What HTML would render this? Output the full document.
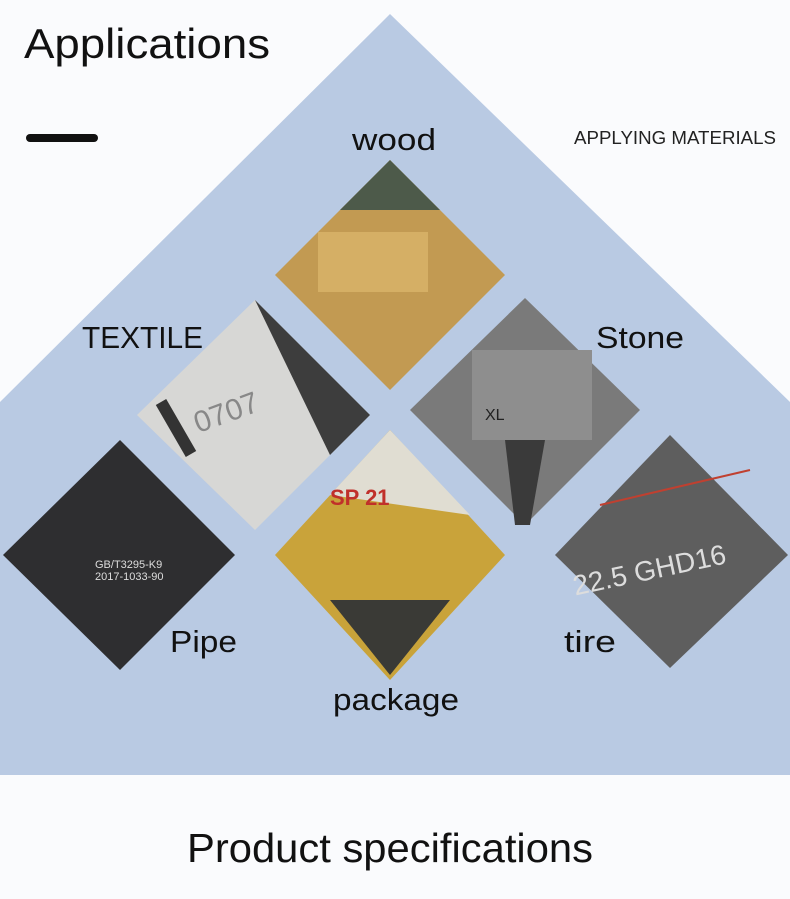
<!DOCTYPE html>
<html><head><meta charset="utf-8"><style>
html,body{margin:0;padding:0;background:#fafbfd;}
svg{display:block}
text{font-family:"Liberation Sans",sans-serif;}
</style></head><body>
<svg width="790" height="899" viewBox="0 0 790 899" xmlns="http://www.w3.org/2000/svg">
<rect width="790" height="899" fill="#fafbfd"/>
<polygon points="390,14 790,402 790,775 0,775 0,402" fill="#b9cae3"/>
<text x="24" y="58" font-size="42" fill="#111" textLength="246" lengthAdjust="spacingAndGlyphs">Applications</text>
<rect x="26" y="134" width="72" height="8" rx="4" fill="#111"/>
<text x="574" y="144" font-size="18" fill="#222" textLength="202" lengthAdjust="spacingAndGlyphs">APPLYING MATERIALS</text>
<text x="352" y="150" font-size="31" fill="#111" textLength="84" lengthAdjust="spacingAndGlyphs">wood</text>
<text x="82" y="348" font-size="31" fill="#111" textLength="121" lengthAdjust="spacingAndGlyphs">TEXTILE</text>
<text x="596" y="348" font-size="31" fill="#111" textLength="88" lengthAdjust="spacingAndGlyphs">Stone</text>
<!-- wood -->
<polygon points="390,160 505,275 390,390 275,275" fill="#c29a52"/>
<polygon points="390,160 440,210 340,210" fill="#4d5a4a"/>
<rect x="318" y="232" width="110" height="60" fill="#d9b46a" opacity="0.8"/>
<!-- textile -->
<polygon points="255,300 370,415 255,530 137,415" fill="#d7d7d5"/>
<polygon points="255,300 370,415 330,455" fill="#3d3d3d"/>
<rect x="170" y="398" width="12" height="60" fill="#333" transform="rotate(-30 176 428)"/>
<text x="195" y="425" font-size="30" fill="#888" transform="rotate(-20 220 420)">0707</text>
<!-- stone -->
<polygon points="525,298 640,410 525,525 410,410" fill="#7a7a7a"/>
<rect x="472" y="350" width="120" height="90" fill="#8e8e8e"/>
<polygon points="505,440 545,440 530,525 515,525" fill="#3a3a3a"/>
<text x="485" y="420" font-size="16" fill="#222">XL</text>
<!-- pipe -->
<polygon points="120,440 235,555 120,670 3,555" fill="#2e2e30"/>
<text x="95" y="568" font-size="11" fill="#ddd">GB/T3295-K9</text>
<text x="95" y="580" font-size="11" fill="#ddd">2017-1033-90</text>
<!-- package -->
<polygon points="390,430 505,555 390,680 275,555" fill="#c9a33a"/>
<polygon points="390,430 470,515 330,495" fill="#e0ddd2"/>
<text x="330" y="505" font-size="22" fill="#c0302a" font-weight="bold">SP 21</text>
<polygon points="330,600 450,600 390,675" fill="#3a3a36"/>
<!-- tire -->
<polygon points="670,435 788,555 670,668 555,555" fill="#5e5e5e"/>
<line x1="600" y1="505" x2="750" y2="470" stroke="#c04030" stroke-width="2"/>
<text x="570" y="575" font-size="28" fill="#ddd" transform="rotate(-12 670 560)">22.5 GHD16</text>
<text x="170" y="652" font-size="31" fill="#111" textLength="67" lengthAdjust="spacingAndGlyphs">Pipe</text>
<text x="564" y="652" font-size="31" fill="#111" textLength="52" lengthAdjust="spacingAndGlyphs">tire</text>
<text x="333" y="710" font-size="31" fill="#111" textLength="126" lengthAdjust="spacingAndGlyphs">package</text>
<text x="187" y="862" font-size="41" fill="#111" textLength="406" lengthAdjust="spacingAndGlyphs">Product specifications</text>
</svg>
</body></html>
